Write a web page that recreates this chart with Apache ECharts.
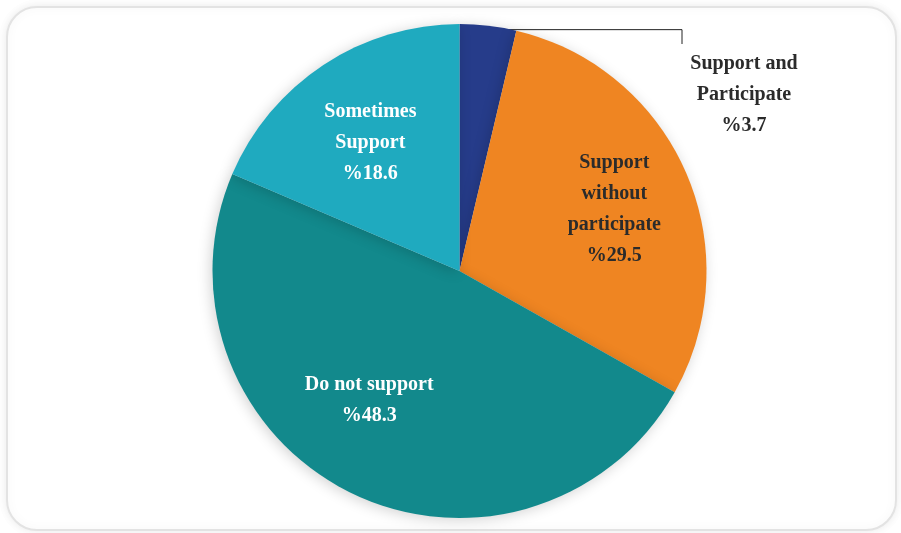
<!DOCTYPE html>
<html>
<head>
<meta charset="utf-8">
<script src="https://cdn.jsdelivr.net/npm/echarts@6/dist/echarts.min.js"></script>
<style>
  html, body { margin: 0; padding: 0; background: #ffffff; }
  #chart { width: 901px; height: 533px; }
</style>
</head>
<body>
<div id="chart"></div>
<script>
// Survey answers, in clockwise order starting from 12 o'clock
const categories = [
  'Support and\nParticipate',
  'Support\nwithout\nparticipate',
  'Do not support',
  'Sometimes\nSupport'
];
const values = [3.7, 29.5, 48.3, 18.6];
const sliceColors = ['#263C8A', '#EF8522', '#12898C', '#1FAABF'];
const labelColors = ['#2b2b2b', '#2b2b2b', '#ffffff', '#ffffff'];

// Layout
const CX = 459.5, CY = 271, R = 247;
const FONT = '"Liberation Serif", serif';
// Small nudges applied to the inside labels, per slice
const labelNudge = [[0, 0], [5, 4], [-18, -17], [1, 8]];

const chart = echarts.init(document.getElementById('chart'), null, { renderer: 'canvas' });

// Leader line for the thin first slice: from its arc midpoint, right, then down
const total = values.reduce((a, b) => a + b, 0);
const midRad = ((values[0] / total) * 360 / 2) * Math.PI / 180;
const arcPt = [CX + (R - 2) * Math.sin(midRad), CY - (R - 2) * Math.cos(midRad) + 2];
const elbowX = 682, calloutX = 744, calloutY = 95;

const pieData = categories.map((name, i) => ({
  name: name,
  value: values[i],
  itemStyle: { color: sliceColors[i] }
}));

const labelData = categories.map((name, i) => ({
  name: name,
  value: values[i],
  label: {
    show: true,
    position: i === 0 ? 'outside' : 'inside',
    color: labelColors[i]
  },
  labelLine: { show: false }
}));

chart.setOption({
  backgroundColor: '#ffffff',
  animation: false,
  graphic: [
    {
      type: 'rect',
      z: -10,
      shape: { x: 7, y: 7, width: 889, height: 523, r: 30 },
      style: {
        fill: '#ffffff',
        stroke: '#e3e3e3',
        lineWidth: 2,
        shadowBlur: 10,
        shadowColor: 'rgba(0,0,0,0.08)'
      }
    },
    {
      type: 'polyline',
      z: 1,
      shape: { points: [arcPt, [elbowX, arcPt[1]], [elbowX, 44]] },
      style: { stroke: '#222222', lineWidth: 1, fill: null }
    }
  ],
  series: [
    {
      type: 'pie',
      center: [CX, CY],
      radius: [0, R],
      startAngle: 90,
      clockwise: true,
      silent: true,
      label: { show: false },
      labelLine: { show: false },
      itemStyle: {
        shadowBlur: 14,
        shadowOffsetX: -2,
        shadowOffsetY: 2,
        shadowColor: 'rgba(0,0,0,0.18)'
      },
      data: pieData
    },
    {
      // Transparent twin of the pie that only carries the slice labels
      type: 'pie',
      center: [CX, CY],
      radius: [R * 0.3, R],
      startAngle: 90,
      clockwise: true,
      silent: true,
      itemStyle: { color: 'rgba(0,0,0,0)' },
      label: {
        fontFamily: FONT,
        fontWeight: 'bold',
        fontSize: 20,
        lineHeight: 31,
        align: 'center',
        formatter: p => p.name + '\n%' + p.value
      },
      labelLayout: function (params) {
        const i = params.dataIndex;
        if (i === 0) {
          return { x: calloutX, y: calloutY, align: 'center', verticalAlign: 'middle' };
        }
        return { dx: labelNudge[i][0], dy: labelNudge[i][1] };
      },
      data: labelData
    }
  ]
});
</script>
</body>
</html>
